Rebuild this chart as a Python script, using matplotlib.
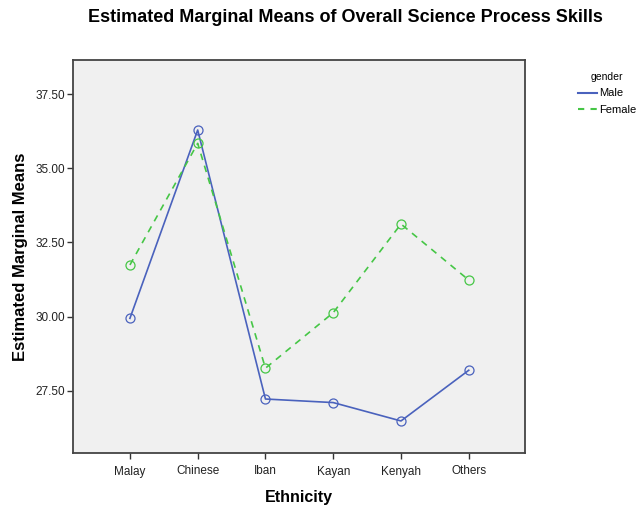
import matplotlib
matplotlib.use("Agg")
import matplotlib.pyplot as plt
from matplotlib.lines import Line2D

plt.rcParams['font.family'] = ['Liberation Sans', 'DejaVu Sans']

categories = ["Malay", "Chinese", "Iban", "Kayan", "Kenyah", "Others"]
male = [29.94, 36.29, 27.22, 27.10, 26.48, 28.19]
female = [31.74, 35.84, 28.26, 30.13, 33.12, 31.23]
yticks = [27.5, 30.0, 32.5, 35.0, 37.5]
ytick_labels = ["27.50", "30.00", "32.50", "35.00", "37.50"]

male_color = "#4a62bd"
female_color = "#46c646"

fig = plt.figure(figsize=(6.41, 5.08), dpi=100)
ax = fig.add_axes([73/641, 1 - 453/508, (525 - 73)/641, (453 - 60)/508])
ax.set_facecolor("#f0f0f0")

x = list(range(len(categories)))
ax.plot(x, male, color=male_color, lw=1.2, marker='o', ms=6.5,
        mfc='none', mec=male_color, mew=0.9, label="Male")
ax.plot(x, female, color=female_color, lw=1.2, ls=(0, (4, 3.5)), marker='o', ms=6.5,
        mfc='none', mec=female_color, mew=0.9, label="Female")

ax.set_xlim(-0.84, 5.83)
ax.set_ylim(25.40, 38.65)
ax.set_xticks(x)
ax.set_xticklabels(categories, fontsize=8.5, color="#222222")
ax.set_yticks(yticks)
ax.set_yticklabels(ytick_labels, fontsize=8.5, color="#222222")
ax.tick_params(axis='x', length=4, width=1, color="#333333", pad=5)
ax.tick_params(axis='y', length=4, width=1, color="#333333", pad=2)

for s in ax.spines.values():
    s.set_color("#444444")
    s.set_linewidth(1.3)

ax.set_xlabel("Ethnicity", fontsize=11.5, fontweight='bold', labelpad=9)
ax.set_ylabel("Estimated Marginal Means", fontsize=12, fontweight='bold', labelpad=5)

fig.text(345/641, 1 - 17/508, "Estimated Marginal Means of Overall Science Process Skills",
         ha='center', va='center', fontsize=13, fontweight='bold')

handles = [Line2D([0], [0], color=male_color, lw=1.5),
           Line2D([0], [0], color=female_color, lw=1.5, ls=(0, (3, 3)))]
leg = fig.legend(handles, ["Male", "Female"], title="gender",
                 loc='upper left', bbox_to_anchor=(570/641, 1 - 64/508),
                 frameon=False, fontsize=8, title_fontsize=7.5,
                 handlelength=1.7, handletextpad=0.2, labelspacing=0.6,
                 borderpad=0.2)

fig.savefig("out.png", dpi=100, facecolor="white")
